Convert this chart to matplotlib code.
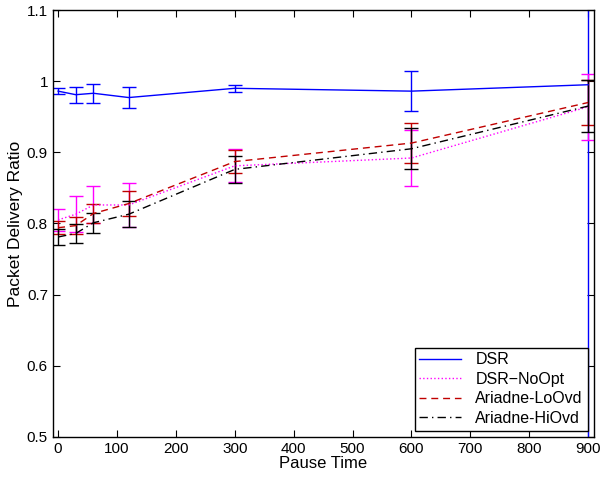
import numpy as np
import matplotlib
matplotlib.use("Agg")
import matplotlib.pyplot as plt
from matplotlib.ticker import FuncFormatter
from matplotlib.lines import Line2D

plt.rcParams['font.family'] = ['Liberation Sans', 'DejaVu Sans']

# Pause times
pause = [0, 30, 60, 120, 300, 600, 900]

# Packet delivery ratio (mean) and error half-widths
dsr = [0.986, 0.981, 0.983, 0.977, 0.990, 0.986, 0.995]
dsr_err = [0.004, 0.011, 0.013, 0.015, 0.005, 0.028, 0.70]

noopt = [0.805, 0.813, 0.826, 0.826, 0.881, 0.892, 0.964]
noopt_err = [0.015, 0.025, 0.026, 0.031, 0.023, 0.039, 0.046]

lo = [0.794, 0.797, 0.814, 0.828, 0.887, 0.913, 0.970]
lo_err = [0.009, 0.012, 0.013, 0.017, 0.016, 0.028, 0.031]

hi = [0.781, 0.786, 0.801, 0.813, 0.876, 0.905, 0.965]
hi_err = [0.011, 0.013, 0.014, 0.018, 0.019, 0.029, 0.036]

names = ['DSR', 'DSR\u2212NoOpt', 'Ariadne-LoOvd', 'Ariadne-HiOvd']
colors = ['#0000ff', '#ff00ff', '#c00000', 'black']
styles = ['-', ':', (0, (5, 3.5)), (0, (6, 3, 1, 3))]

fig = plt.figure(figsize=(6.0, 4.78), dpi=100)
ax = fig.add_axes([0.088, 0.086, 0.902, 0.893])

kw = dict(capsize=5, elinewidth=1.0, capthick=1.0, linewidth=1.0)
for y, e, c, ls in zip([dsr, noopt, lo, hi], [dsr_err, noopt_err, lo_err, hi_err], colors, styles):
    ax.errorbar(pause, y, yerr=e, color=c, linestyle=ls, **kw)

ax.set_xlim(-9, 910)
ax.set_ylim(0.5, 1.1)
ax.set_xticks(np.arange(0, 901, 100))
ax.set_yticks([0.5, 0.6, 0.7, 0.8, 0.9, 1.0, 1.1])
ax.yaxis.set_major_formatter(FuncFormatter(lambda v, p: '%g' % round(v, 2)))
ax.tick_params(direction='in', top=True, right=True, length=5, labelsize=11)
for s in ax.spines.values():
    s.set_linewidth(1.0)

ax.set_xlabel('Pause Time', fontsize=12, labelpad=0)
ax.set_ylabel('Packet Delivery Ratio', fontsize=12.5, labelpad=3)

handles = [Line2D([], [], color=c, linestyle=ls, linewidth=1.0) for c, ls in zip(colors, styles)]
leg = ax.legend(handles, names, loc='lower right', fontsize=11.5, frameon=True, fancybox=False,
                edgecolor='black', framealpha=1, handlelength=2.6, handletextpad=0.9,
                borderpad=0.3, labelspacing=0.28, borderaxespad=0.4)
leg.get_frame().set_linewidth(1.0)

fig.savefig('out.png', dpi=100)
